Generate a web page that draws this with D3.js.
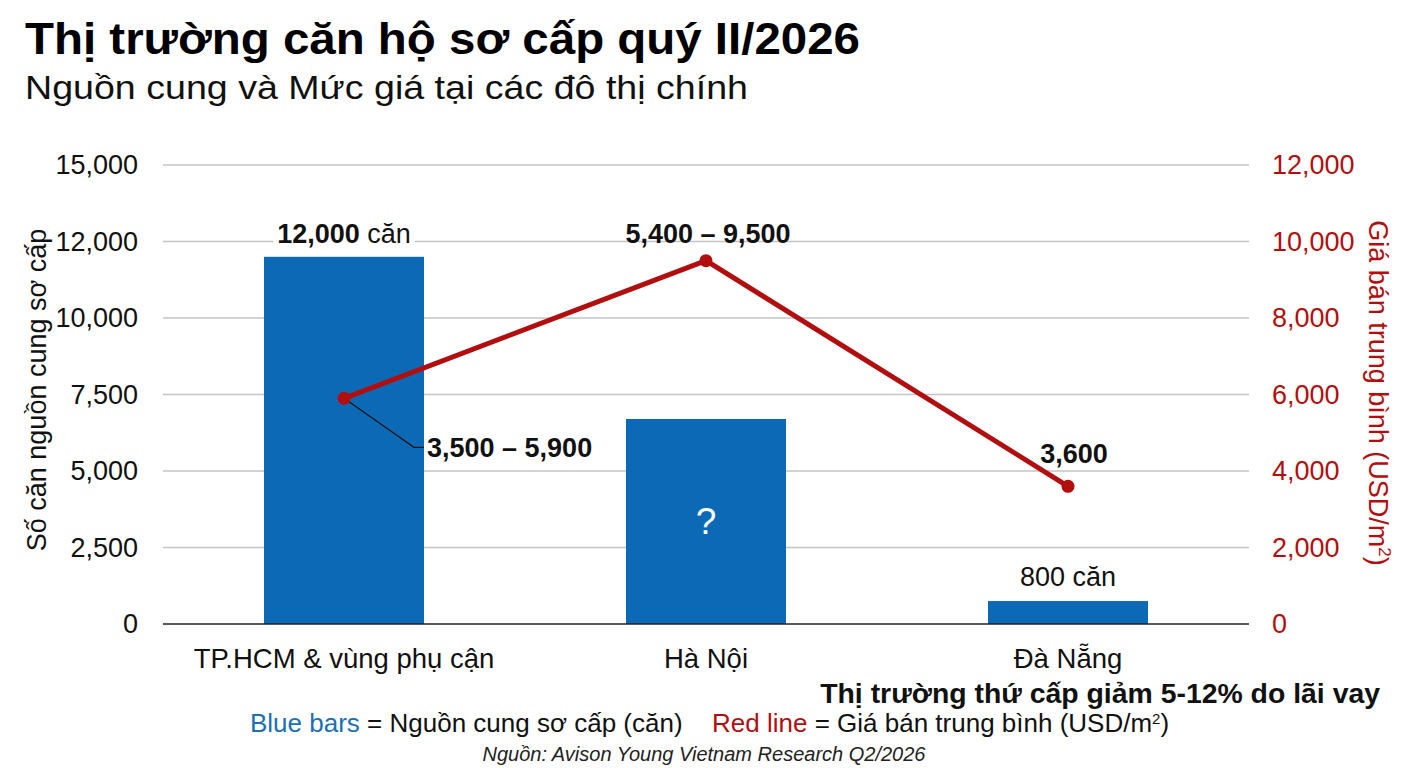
<!DOCTYPE html>
<html><head><meta charset="utf-8">
<script src="https://cdn.jsdelivr.net/npm/d3@7"></script>
<style>
html,body{margin:0;padding:0;background:#fff;}
text{font-family:"Liberation Sans",Arial,sans-serif;}
</style></head>
<body><svg id="c" width="1408" height="768"></svg>
<script>
const categories = ["TP.HCM & vùng phụ cận", "Hà Nội", "Đà Nẵng"];
const supplyValues = [12000, 6700, 750];          // căn (bars)
const priceValues = [5900, 9500, 3600];           // USD/m2 (line)
const leftTickValues = [0, 2500, 5000, 7500, 10000, 12500, 15000];
const leftTickLabels = ["0", "2,500", "5,000", "7,500", "10,000", "12,000", "15,000"];
const rightTickValues = [0, 2000, 4000, 6000, 8000, 10000, 12000];
const rightTickLabels = ["0", "2,000", "4,000", "6,000", "8,000", "10,000", "12,000"];
const barLabelsBold = ["12,000", null, null];
const barLabelsRest = [" căn", "?", "800 căn"];
const priceLabels = ["3,500 – 5,900", "5,400 – 9,500", "3,600"];

const svg = d3.select("#c");
const M = {left:163, right:1249, top:165, bottom:624};
const BLUE = "#0b69b5", RED = "#b10f0f";
const FF = "Liberation Sans, Arial, sans-serif";

const x = d3.scaleBand().domain(categories).range([M.left, M.right]).paddingInner(0.558).paddingOuter(0.279);
const yL = d3.scaleLinear().domain([0, 15000]).range([M.bottom, M.top]);
const yR = d3.scaleLinear().domain([0, 12000]).range([M.bottom, M.top]);

// title
svg.append("text").attr("x", 25).attr("y", 54).attr("font-size", 45).attr("font-weight", "bold")
  .attr("textLength", 835).attr("lengthAdjust", "spacingAndGlyphs")
  .attr("fill", "#000").text("Thị trường căn hộ sơ cấp quý II/2026");
svg.append("text").attr("x", 25).attr("y", 99).attr("font-size", 33).attr("fill", "#111")
  .attr("textLength", 723).attr("lengthAdjust", "spacingAndGlyphs")
  .text("Nguồn cung và Mức giá tại các đô thị chính");

// gridlines
svg.append("g").selectAll("line").data(leftTickValues.filter(d => d > 0)).join("line")
  .attr("x1", M.left).attr("x2", M.right)
  .attr("y1", d => yL(d)).attr("y2", d => yL(d))
  .attr("stroke", "#c4c4c4").attr("stroke-width", 1.5);

// left axis
const gL = svg.append("g").attr("transform", `translate(${M.left},0)`)
  .call(d3.axisLeft(yL).tickValues(leftTickValues).tickFormat((d, i) => leftTickLabels[i]).tickSize(0).tickPadding(25));
gL.select(".domain").remove();
gL.selectAll("text").attr("font-size", 27).attr("fill", "#111").attr("font-family", FF);

// right axis
const gR = svg.append("g").attr("transform", `translate(${M.right},0)`)
  .call(d3.axisRight(yR).tickValues(rightTickValues).tickFormat((d, i) => rightTickLabels[i]).tickSize(0).tickPadding(23));
gR.select(".domain").remove();
gR.selectAll("text").attr("font-size", 27).attr("fill", RED).attr("font-family", FF);

// bars
svg.append("g").selectAll("rect").data(supplyValues).join("rect")
  .attr("x", (d, i) => x(categories[i])).attr("width", x.bandwidth())
  .attr("y", d => yL(d)).attr("height", d => yL(0) - yL(d))
  .attr("fill", BLUE);

// baseline
svg.append("line").attr("x1", M.left).attr("x2", M.right).attr("y1", yL(0)).attr("y2", yL(0))
  .attr("stroke", "#222").attr("stroke-width", 1.5);

// x axis labels
const gX = svg.append("g").attr("transform", `translate(0,${yL(0)})`)
  .call(d3.axisBottom(x).tickSize(0).tickPadding(24));
gX.select(".domain").remove();
gX.selectAll("text").attr("font-size", 27.5).attr("fill", "#111").attr("font-family", FF);

// leader line for HCM price label
const cx = i => x(categories[i]) + x.bandwidth() / 2;
svg.append("polyline")
  .attr("points", [[cx(0), yR(priceValues[0])], [cx(0) + 70, yR(priceValues[0]) + 49], [cx(0) + 80, yR(priceValues[0]) + 49]].map(p => p.join(",")).join(" "))
  .attr("fill", "none").attr("stroke", "#111").attr("stroke-width", 1.2);

// price line
const line = d3.line().x((d, i) => cx(i)).y(d => yR(d));
svg.append("path").datum(priceValues).attr("d", line)
  .attr("fill", "none").attr("stroke", RED).attr("stroke-width", 5).attr("stroke-linejoin", "round");
svg.append("g").selectAll("circle").data(priceValues).join("circle")
  .attr("cx", (d, i) => cx(i)).attr("cy", d => yR(d)).attr("r", 6.5).attr("fill", RED);

// bar labels
{
  const t = svg.append("text").attr("x", cx(0)).attr("y", yL(supplyValues[0]) - 14)
    .attr("text-anchor", "middle").attr("font-size", 27).attr("fill", "#111");
  t.append("tspan").attr("font-weight", "bold").text(barLabelsBold[0]);
  t.append("tspan").text(barLabelsRest[0]);
  const bb = t.node().getBBox();
  svg.insert("rect", () => t.node()).attr("x", bb.x - 4).attr("y", bb.y).attr("width", bb.width + 8).attr("height", bb.height).attr("fill", "#fff");
}
svg.append("text").attr("x", cx(1)).attr("y", yL(supplyValues[1] / 2) + 13)
  .attr("text-anchor", "middle").attr("font-size", 37).attr("fill", "#fff").text(barLabelsRest[1]);
svg.append("text").attr("x", cx(2)).attr("y", yL(supplyValues[2]) - 15)
  .attr("text-anchor", "middle").attr("font-size", 27).attr("fill", "#111").text(barLabelsRest[2]);

// price labels
svg.append("text").attr("x", cx(0) + 83).attr("y", yR(priceValues[0]) + 59)
  .attr("font-size", 27).attr("font-weight", "bold").attr("fill", "#111").text(priceLabels[0]);
svg.append("text").attr("x", cx(1) + 2).attr("y", yR(priceValues[1]) - 18)
  .attr("text-anchor", "middle").attr("font-size", 27).attr("font-weight", "bold").attr("fill", "#111").text(priceLabels[1]);
svg.append("text").attr("x", cx(2) + 6).attr("y", yR(priceValues[2]) - 23)
  .attr("text-anchor", "middle").attr("font-size", 27).attr("font-weight", "bold").attr("fill", "#111").text(priceLabels[2]);

// axis titles
svg.append("text").attr("transform", `translate(46,390) rotate(-90)`)
  .attr("text-anchor", "middle").attr("font-size", 27).attr("fill", "#111").text("Số căn nguồn cung sơ cấp");
{
  const t = svg.append("text").attr("transform", `translate(1369,393) rotate(90)`)
    .attr("text-anchor", "middle").attr("font-size", 27).attr("fill", RED);
  t.append("tspan").text("Giá bán trung bình (USD/m");
  t.append("tspan").attr("font-size", 17).attr("dy", -10).text("2");
  t.append("tspan").attr("dy", 10).text(")");
}

// note
svg.append("text").attr("x", 1380).attr("y", 703).attr("text-anchor", "end")
  .attr("font-size", 28.4).attr("font-weight", "bold").attr("fill", "#111").text("Thị trường thứ cấp giảm 5-12% do lãi vay");

// legend
{
  const t = svg.append("text").attr("x", 250).attr("y", 732).attr("font-size", 26).attr("fill", "#111");
  t.append("tspan").attr("fill", "#1a6fb5").text("Blue bars");
  t.append("tspan").text(" = Nguồn cung sơ cấp (căn)");
  const t2 = svg.append("text").attr("x", 712).attr("y", 732).attr("font-size", 26).attr("fill", "#111");
  t2.append("tspan").attr("fill", RED).text("Red line");
  t2.append("tspan").text(" = Giá bán trung bình (USD/m");
  t2.append("tspan").attr("font-size", 15).attr("dy", -8).text("2");
  t2.append("tspan").attr("dy", 8).text(")");
}
// source
svg.append("text").attr("x", 704).attr("y", 761).attr("text-anchor", "middle")
  .attr("font-size", 20).attr("font-style", "italic").attr("fill", "#222").text("Nguồn: Avison Young Vietnam Research Q2/2026");
</script></body></html>
